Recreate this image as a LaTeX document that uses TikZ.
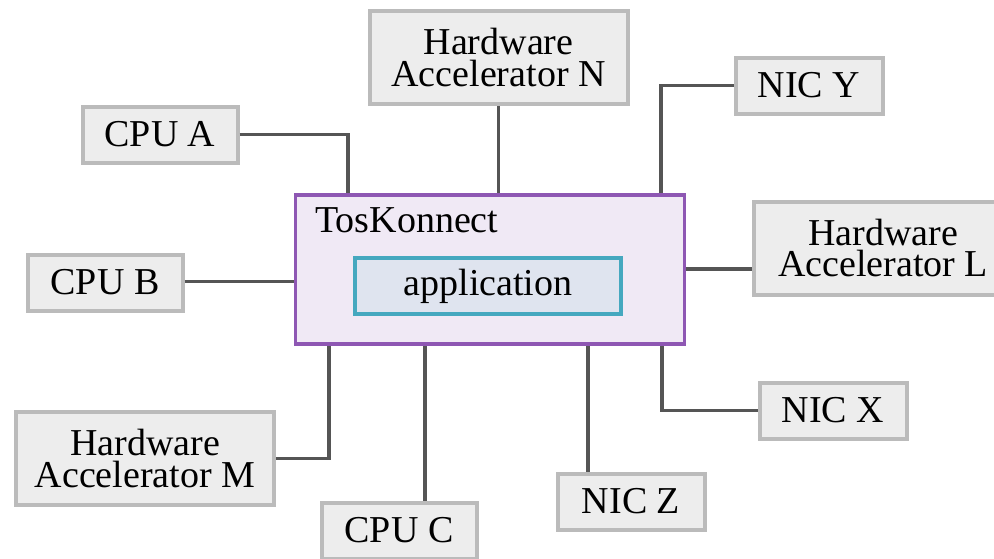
\documentclass[tikz,border=0pt]{standalone}
\usepackage{fontspec}
\setmainfont{Liberation Serif}
\definecolor{boxfill}{HTML}{EDEDED}
\definecolor{boxline}{HTML}{BBBBBB}
\definecolor{hubfill}{HTML}{F0E9F5}
\definecolor{hubline}{HTML}{8E57B3}
\definecolor{appfill}{HTML}{DFE4EF}
\definecolor{appline}{HTML}{45A8BF}
\definecolor{wire}{HTML}{555555}
\tikzset{
  unit/.style={draw=boxline, fill=boxfill, line width=4pt, inner sep=0pt,
    align=center, font=\fontsize{38}{31.5}\selectfont},
  small/.style={unit, minimum width=155pt, minimum height=56pt},
  wide/.style={unit, minimum width=258pt, minimum height=93pt},
  narrow/.style={unit, minimum width=147pt, minimum height=56pt},
  hub/.style={draw=hubline, fill=hubfill, line width=3.2pt, inner sep=0pt,
    minimum width=389pt, minimum height=149pt},
  app/.style={draw=appline, fill=appfill, line width=3.2pt, inner sep=0pt,
    minimum width=266pt, minimum height=56pt, font=\fontsize{38}{31.5}\selectfont},
  link/.style={draw=wire, line width=3.4pt},
}
\begin{document}
\begin{tikzpicture}[x=1pt, y=-1pt]
\useasboundingbox (0,0) rectangle (994,558);
\clip (0,0) rectangle (994,558);

% central TosKonnect block with the application inside
\node[hub] (tk) at (490,269.5) {};
\node[anchor=base west, inner sep=0pt, font=\fontsize{38}{31.5}\selectfont] (tkl) at (315,232) {TosKonnect};
\node[app] (app) at (488,286) {application};

% attached units
\node[small]  (cpua) at (160,134.5) {CPU A};
\node[small]  (cpub) at (105,282.5) {CPU B};
\node[small]  (cpuc) at (399,530.5) {CPU C};
\node[wide]   (hwn)  at (498.5,57.5) {Hardware\\Accelerator N};
\node[wide]   (hwl)  at (883,248) {Hardware\\Accelerator L};
\node[wide]   (hwm)  at (145,458.5) {Hardware\\Accelerator M};
\node[narrow] (nicy) at (809,85.5) {NIC Y};
\node[narrow] (nicx) at (833,410.5) {NIC X};
\node[narrow] (nicz) at (631,501.5) {NIC Z};

% connectors
\draw[link] (cpua.east) -| ([xshift=54pt]tk.north west);
\draw[link] (hwn.south) -- (hwn.south |- tk.north);
\draw[link] (nicy.west) -| ([xshift=-25pt]tk.north east);
\draw[link] (hwl.west |- 0,269) -- (tk.east |- 0,269);
\draw[link] (cpub.east |- 0,281.5) -- (tk.west |- 0,281.5);
\draw[link] (hwm.east) -| ([xshift=35pt]tk.south west);
\draw[link] (cpuc.north -| 425,0) -- (tk.south -| 425,0);
\draw[link] (nicz.north -| 588,0) -- (tk.south -| 588,0);
\draw[link] (nicx.west) -| ([xshift=-24pt]tk.south east);
\end{tikzpicture}
\end{document}
